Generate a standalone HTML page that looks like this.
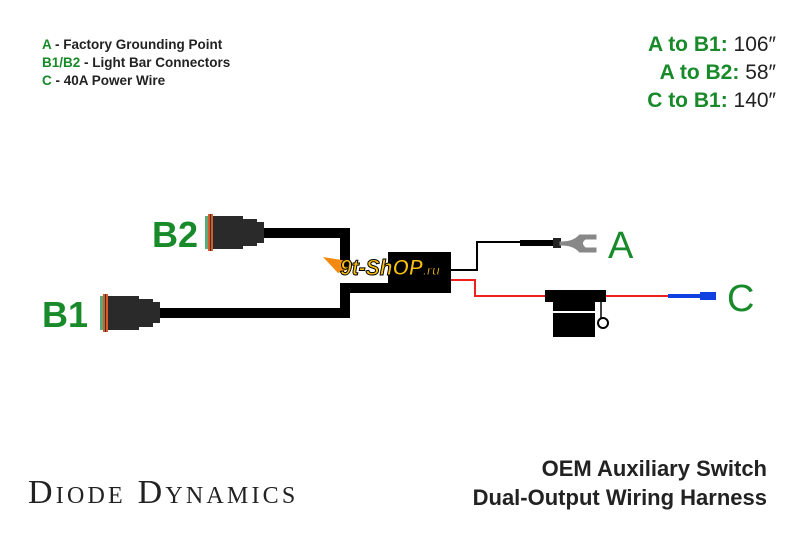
<!DOCTYPE html>
<html><head><meta charset="utf-8"><style>
html,body{margin:0;padding:0;background:#fff;}
body{width:800px;height:533px;overflow:hidden;position:relative;font-family:"Liberation Sans",sans-serif;}
.t{position:absolute;white-space:nowrap;}
.g{color:#188a2a;}
</style></head><body>
<div class="t" style="left:42px;top:36px;font-size:13.5px;font-weight:bold;line-height:18px;color:#222;">
<span class="g">A</span> - Factory Grounding Point<br><span class="g">B1/B2</span> - Light Bar Connectors<br><span class="g">C</span> - 40A Power Wire</div>
<div class="t" style="right:24px;top:31px;font-size:21px;line-height:28px;color:#222;text-align:right;">
<span class="g" style="font-weight:bold">A to B1:</span> 106″<br><span class="g" style="font-weight:bold">A to B2:</span> 58″<br><span class="g" style="font-weight:bold">C to B1:</span> 140″</div>
<div class="t" style="left:28px;top:474px;font-family:'Liberation Serif',serif;font-size:34px;font-variant:small-caps;color:#222;letter-spacing:3.2px;">Diode Dynamics</div>
<div class="t" style="right:33px;top:454px;font-size:22px;font-weight:bold;line-height:29px;color:#222;text-align:right;">OEM Auxiliary Switch<br>Dual-Output Wiring Harness</div>
<svg width="800" height="533" style="position:absolute;left:0;top:0">
<path d="M262 233 H345 V268" fill="none" stroke="#000" stroke-width="10"/>
<path d="M158 313 H345 V288 H390" fill="none" stroke="#000" stroke-width="10"/>
<rect x="388" y="252" width="63" height="41" fill="#000"/>
<path d="M451 270 H477 V242 H520" fill="none" stroke="#000" stroke-width="2"/>
<rect x="520" y="240" width="34" height="6" fill="#000"/>
<rect x="553" y="238" width="8" height="10" fill="#222"/>
<path d="M561 243 Q574 243 580 236 L595 236 L595 238 L585 238 Q578 243 585 249 L595 249 L595 251 L580 251 Q574 244 561 244Z" fill="#888" stroke="#888" stroke-width="3"/>
<path d="M451 280 H475 V296 H545 M606 296 H668" fill="none" stroke="#f02020" stroke-width="2"/>
<rect x="545" y="290" width="61" height="12" fill="#000"/>
<rect x="553" y="302" width="42" height="35" fill="#000"/>
<rect x="552" y="311" width="44" height="2" fill="#fff"/>
<path d="M601 302 V318" stroke="#000" stroke-width="1.5"/>
<circle cx="603" cy="323" r="5" fill="none" stroke="#000" stroke-width="2"/>
<rect x="668" y="294" width="33" height="4" fill="#1040e0"/>
<rect x="700" y="292" width="16" height="8" fill="#1040e0"/>
<rect x="205" y="216" width="4" height="33" fill="#5aaa7a"/>
<rect x="208" y="214" width="5" height="37" fill="#d85a2a"/>
<rect x="210" y="214" width="1" height="37" fill="#333"/>
<rect x="213" y="216" width="30" height="33" fill="#2a2a2a"/>
<rect x="243" y="219" width="14" height="27" fill="#2a2a2a"/>
<rect x="257" y="222" width="7" height="21" fill="#2a2a2a"/>
<rect x="100" y="296" width="4" height="34" fill="#5aaa7a"/>
<rect x="103" y="294" width="5" height="38" fill="#d85a2a"/>
<rect x="105" y="294" width="1" height="38" fill="#333"/>
<rect x="108" y="296" width="31" height="34" fill="#2a2a2a"/>
<rect x="139" y="299" width="14" height="28" fill="#2a2a2a"/>
<rect x="153" y="302" width="7" height="21" fill="#2a2a2a"/>
<path d="M323 257 L348 261 L342 265 L352 268 L338 273 Z" fill="#f28a10"/>
<text x="340" y="275" font-family="Liberation Sans" font-weight="bold" font-style="italic" font-size="22" fill="#f8c010" stroke="#000" stroke-width="1" textLength="100" lengthAdjust="spacingAndGlyphs">9t-ShOP<tspan font-size="14">.ru</tspan></text>
<g font-family="Liberation Sans" font-weight="bold" fill="#188a2a" font-size="36">
<text x="152" y="247">B2</text>
<text x="42" y="327">B1</text>
</g>
<g font-family="Liberation Sans" fill="#188a2a" font-size="38">
<text x="608" y="258">A</text>
<text x="727" y="311">C</text>
</g>
</svg>
</body></html>
